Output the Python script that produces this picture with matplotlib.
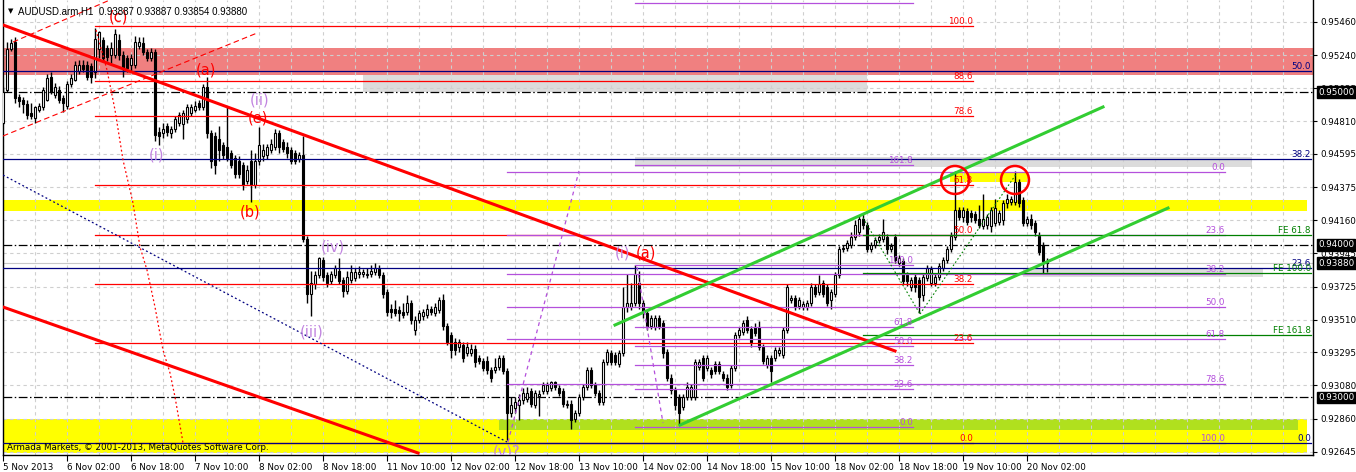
import matplotlib
matplotlib.use('Agg')
import matplotlib.pyplot as plt
from matplotlib.patches import Rectangle, Ellipse
from matplotlib.transforms import blended_transform_factory

plt.rcParams['font.family'] = ['DejaVu Sans']

# AUDUSD H1 bars, prices in pips (1 pip = 0.0001)
opens = [
    9480, 9501, 9528, 9533, 9497, 9495, 9492, 9486, 9483, 9488,
    9490, 9495, 9510, 9498, 9501, 9496, 9491, 9505, 9508, 9514,
    9518, 9518, 9517, 9513, 9528, 9534, 9529, 9524, 9524, 9534,
    9524, 9522, 9518, 9518, 9530, 9532, 9526, 9522, 9526, 9474,
    9473, 9478, 9473, 9476, 9480, 9479, 9482, 9486, 9488, 9493,
    9490, 9503, 9473, 9471, 9469, 9465, 9464, 9460, 9457, 9455,
    9452, 9442, 9455, 9439, 9455, 9458, 9459, 9462, 9464, 9473,
    9467, 9464, 9462, 9460, 9456, 9459, 9404, 9368, 9374, 9380,
    9390, 9380, 9376, 9380, 9383, 9377, 9370, 9377, 9378, 9381,
    9381, 9380, 9381, 9382, 9384, 9380, 9369, 9358, 9358, 9357,
    9356, 9356, 9362, 9344, 9351, 9353, 9354, 9358, 9355, 9357,
    9364, 9347, 9341, 9336, 9333, 9334, 9329, 9329, 9332, 9326,
    9324, 9324, 9318, 9318, 9320, 9326, 9317, 9290, 9293, 9295,
    9298, 9299, 9304, 9295, 9301, 9304, 9304, 9306, 9310, 9306,
    9304, 9295, 9296, 9286, 9290, 9300, 9307, 9318, 9308, 9303,
    9297, 9323, 9329, 9328, 9322, 9329, 9359, 9359, 9362, 9375,
    9362, 9355, 9347, 9346, 9352, 9349, 9330, 9313, 9305, 9300,
    9294, 9300, 9300, 9300, 9320, 9326, 9319, 9318, 9322, 9322,
    9315, 9313, 9308, 9319, 9341, 9343, 9351, 9345, 9346, 9346,
    9333, 9321, 9326, 9326, 9329, 9328, 9344, 9364, 9365, 9360,
    9359, 9359, 9362, 9372, 9369, 9375, 9372, 9364, 9368, 9380,
    9397, 9398, 9400, 9405, 9408, 9417, 9413, 9397, 9400, 9403,
    9404, 9405, 9397, 9405, 9388, 9389, 9380, 9372, 9379, 9377,
    9367, 9378, 9375, 9375, 9379, 9385, 9390, 9397, 9405, 9423,
    9418, 9422, 9421, 9420, 9417, 9412, 9413, 9412, 9414, 9415,
    9416, 9427, 9428, 9428, 9441, 9429, 9414, 9417, 9414, 9406,
    9400, 9389,
]
highs = [
    9503, 9533, 9535, 9536, 9499, 9497, 9495, 9493, 9491, 9493,
    9503, 9512, 9513, 9506, 9504, 9498, 9507, 9512, 9520, 9521,
    9521, 9520, 9519, 9542, 9540, 9536, 9531, 9533, 9541, 9538,
    9527, 9524, 9525, 9537, 9536, 9536, 9528, 9529, 9528, 9477,
    9480, 9480, 9478, 9484, 9487, 9488, 9492, 9492, 9494, 9495,
    9505, 9510, 9475, 9474, 9478, 9467, 9490, 9462, 9459, 9458,
    9454, 9452, 9462, 9460, 9477, 9466, 9466, 9469, 9476, 9475,
    9469, 9467, 9464, 9462, 9461, 9471, 9406, 9383, 9383, 9392,
    9392, 9382, 9383, 9387, 9391, 9379, 9383, 9387, 9385, 9386,
    9384, 9385, 9387, 9388, 9387, 9382, 9371, 9361, 9364, 9360,
    9362, 9367, 9364, 9353, 9357, 9358, 9361, 9360, 9362, 9366,
    9368, 9349, 9343, 9339, 9338, 9336, 9336, 9335, 9334, 9328,
    9326, 9327, 9320, 9326, 9328, 9328, 9319, 9300, 9300, 9302,
    9306, 9307, 9306, 9305, 9305, 9310, 9310, 9311, 9311, 9308,
    9306, 9298, 9298, 9292, 9302, 9309, 9320, 9320, 9310, 9305,
    9325, 9332, 9331, 9330, 9331, 9372, 9381, 9375, 9387, 9383,
    9364, 9357, 9354, 9354, 9354, 9351, 9332, 9315, 9307, 9302,
    9302, 9310, 9309, 9325, 9325, 9328, 9328, 9320, 9324, 9324,
    9317, 9315, 9321, 9343, 9346, 9351, 9353, 9347, 9349, 9350,
    9335, 9328, 9328, 9333, 9333, 9346, 9374, 9367, 9367, 9366,
    9363, 9364, 9375, 9374, 9380, 9377, 9374, 9371, 9382, 9399,
    9400, 9403, 9408, 9416, 9419, 9420, 9415, 9402, 9405, 9407,
    9417, 9407, 9401, 9407, 9393, 9391, 9382, 9379, 9381, 9379,
    9381, 9387, 9386, 9381, 9388, 9392, 9399, 9408, 9448, 9425,
    9425, 9424, 9423, 9422, 9426, 9433, 9420, 9425, 9430, 9423,
    9429, 9433, 9432, 9448, 9443, 9431, 9419, 9420, 9416, 9408,
    9402, 9391,
]
lows = [
    9479, 9500, 9527, 9493, 9490, 9486, 9482, 9482, 9480, 9487,
    9488, 9494, 9499, 9496, 9493, 9487, 9489, 9503, 9507, 9512,
    9513, 9508, 9506, 9509, 9522, 9520, 9520, 9519, 9522, 9521,
    9510, 9513, 9514, 9516, 9528, 9524, 9520, 9520, 9468, 9465,
    9470, 9471, 9470, 9474, 9478, 9469, 9480, 9484, 9487, 9488,
    9488, 9470, 9450, 9446, 9455, 9456, 9455, 9450, 9444, 9444,
    9436, 9440, 9428, 9437, 9452, 9455, 9456, 9460, 9462, 9460,
    9461, 9457, 9453, 9453, 9454, 9402, 9362, 9353, 9371, 9378,
    9376, 9372, 9374, 9378, 9374, 9366, 9368, 9375, 9376, 9378,
    9379, 9378, 9379, 9380, 9378, 9365, 9353, 9352, 9353, 9350,
    9352, 9354, 9348, 9341, 9349, 9351, 9352, 9354, 9353, 9355,
    9344, 9334, 9326, 9328, 9330, 9323, 9327, 9327, 9320, 9322,
    9317, 9315, 9310, 9316, 9318, 9315, 9272, 9287, 9290, 9285,
    9296, 9297, 9294, 9293, 9288, 9302, 9302, 9304, 9305, 9301,
    9294, 9293, 9279, 9284, 9288, 9298, 9305, 9306, 9301, 9295,
    9295, 9321, 9321, 9321, 9320, 9327, 9356, 9357, 9360, 9358,
    9352, 9344, 9345, 9344, 9345, 9326, 9311, 9302, 9292, 9282,
    9292, 9298, 9298, 9298, 9318, 9311, 9317, 9313, 9315, 9315,
    9311, 9305, 9306, 9317, 9339, 9341, 9342, 9333, 9340, 9331,
    9322, 9319, 9310, 9324, 9327, 9326, 9342, 9362, 9357, 9358,
    9357, 9357, 9360, 9366, 9367, 9366, 9360, 9358, 9366, 9378,
    9395, 9396, 9398, 9403, 9406, 9410, 9395, 9395, 9398, 9401,
    9402, 9394, 9395, 9388, 9386, 9374, 9373, 9370, 9369, 9355,
    9363, 9376, 9373, 9373, 9377, 9383, 9388, 9395, 9403, 9416,
    9415, 9413, 9415, 9414, 9411, 9410, 9410, 9408, 9412, 9413,
    9413, 9424, 9426, 9426, 9425, 9412, 9412, 9410, 9406, 9393,
    9381, 9382,
]
closes = [
    9500, 9528, 9532, 9496, 9494, 9492, 9485, 9484, 9490, 9491,
    9501, 9509, 9500, 9503, 9495, 9493, 9505, 9509, 9518, 9518,
    9515, 9510, 9510, 9535, 9539, 9522, 9523, 9529, 9538, 9524,
    9516, 9516, 9522, 9533, 9533, 9526, 9522, 9526, 9472, 9471,
    9476, 9474, 9476, 9482, 9485, 9486, 9490, 9490, 9491, 9490,
    9503, 9473, 9455, 9452, 9462, 9459, 9457, 9452, 9446, 9446,
    9439, 9449, 9439, 9455, 9465, 9462, 9464, 9466, 9473, 9464,
    9463, 9460, 9455, 9455, 9459, 9404, 9368, 9375, 9380, 9391,
    9379, 9375, 9381, 9385, 9376, 9370, 9379, 9382, 9382, 9382,
    9382, 9381, 9383, 9385, 9380, 9368, 9356, 9356, 9355, 9355,
    9354, 9362, 9351, 9351, 9355, 9356, 9358, 9356, 9359, 9364,
    9347, 9336, 9331, 9331, 9336, 9326, 9333, 9332, 9323, 9324,
    9319, 9318, 9313, 9320, 9326, 9317, 9290, 9295, 9297, 9298,
    9303, 9303, 9296, 9303, 9302, 9308, 9308, 9310, 9307, 9303,
    9296, 9296, 9285, 9290, 9300, 9307, 9318, 9308, 9303, 9297,
    9323, 9330, 9323, 9323, 9329, 9359, 9362, 9362, 9381, 9362,
    9355, 9346, 9352, 9352, 9347, 9329, 9313, 9305, 9295, 9290,
    9300, 9307, 9307, 9323, 9323, 9313, 9326, 9315, 9317, 9317,
    9313, 9307, 9319, 9341, 9344, 9349, 9344, 9336, 9342, 9333,
    9324, 9326, 9317, 9331, 9331, 9344, 9372, 9365, 9359, 9364,
    9361, 9362, 9372, 9368, 9374, 9368, 9362, 9369, 9380, 9397,
    9398, 9401, 9405, 9413, 9417, 9413, 9397, 9400, 9403, 9405,
    9408, 9397, 9399, 9390, 9391, 9376, 9376, 9377, 9372, 9366,
    9379, 9385, 9384, 9379, 9386, 9390, 9397, 9406, 9423, 9418,
    9423, 9415, 9418, 9416, 9413, 9417, 9418, 9423, 9424, 9421,
    9427, 9430, 9430, 9441, 9427, 9414, 9417, 9413, 9408, 9395,
    9389, 9388,
]

time_labels = ['5 Nov 2013', '6 Nov 02:00', '6 Nov 18:00', '7 Nov 10:00', '8 Nov 02:00',
               '8 Nov 18:00', '11 Nov 10:00', '12 Nov 02:00', '12 Nov 18:00', '13 Nov 10:00',
               '14 Nov 02:00', '14 Nov 18:00', '15 Nov 10:00', '18 Nov 02:00', '18 Nov 18:00',
               '19 Nov 10:00', '20 Nov 02:00']
price_ticks = [0.95460, 0.95240, 0.95025, 0.94810, 0.94595, 0.94375, 0.94160,
               0.93945, 0.93725, 0.93510, 0.93295, 0.93080, 0.92860, 0.92645]
round_levels = [0.95000, 0.94000, 0.93000]
last_price = 0.93880
header = 'AUDUSD.arm,H1  0.93887 0.93887 0.93854 0.93880'

# fibonacci objects: (level text, price), drawn between two bar positions
red_fib = [('100.0', 0.95432), ('88.6', 0.95072), ('78.6', 0.94843), ('61.8', 0.94391),
           ('50.0', 0.94063), ('38.2', 0.93743), ('23.6', 0.93356), ('0.0', 0.92701)]
violet_fib = [('0.0', 0.94478), ('23.6', 0.94063), ('38.2', 0.93808), ('50.0', 0.93592),
              ('61.8', 0.93382), ('78.6', 0.93088), ('100.0', 0.92701)]
violet_fib2 = [('0.0', 0.92806), ('23.6', 0.93056), ('38.2', 0.93211), ('50.0', 0.93337),
               ('61.8', 0.93462), ('100.0', 0.93867), ('161.8', 0.94523), ('', 0.95584)]
navy_fib = [('50.0', 0.95138), ('38.2', 0.94561), ('23.6', 0.93847), ('0.0', 0.92701)]
fe_levels = [('FE 61.8', 0.94063), ('FE 100.0', 0.93815), ('FE 161.8', 0.93409)]

# rectangles: bar from, bar to, price low, price high, colour
zones = [
    (0, 327.5, 0.95111, 0.95288, '#f08080'),
    (90, 216, 0.95000, 0.95111, '#dcdcdc'),
    (158, 312.25, 0.94509, 0.94574, '#dcdcdc'),
    (0, 326, 0.94221, 0.94293, '#ffff00'),
    (236.75, 256.25, 0.94411, 0.94476, '#ffff00'),
    (255, 315, 0.93788, 0.93847, '#dcdcdc'),
    (0, 326, 0.92636, 0.92858, '#ffff00'),
    (124, 323.75, 0.92786, 0.92858, '#b0e01e'),
]

VIOLET = '#b450dc'
VIOLET_TXT = '#c184e0'
DASHED = (0, (5, 3))
DOTTED = (0, (1.5, 2))

# trend lines: (bar, price) -> (bar, price), colour, width, style
trend_lines = [
    (0, 0.95439, 223, 0.93304, 'red', 2.2, '-'),
    (0, 0.93592, 103.75, 0.92636, 'red', 2.2, '-'),
    (153, 0.93474, 275, 0.94902, '#32cd32', 2.2, '-'),
    (169.25, 0.92819, 291.25, 0.94240, '#32cd32', 2.2, '-'),
    (0, 0.94712, 63.5, 0.95386, 'red', 0.8, DASHED),
    (2.5, 0.95327, 26.75, 0.95603, 'red', 0.8, DASHED),
    (0, 0.94456, 126, 0.92708, '#000080', 0.9, DOTTED),
    (126.25, 0.92708, 144, 0.94483, VIOLET, 0.9, (0, (3, 3))),
    (158.5, 0.93854, 165, 0.92832, VIOLET, 0.9, (0, (3, 3))),
    (215, 0.94175, 229.25, 0.93546, '#008000', 0.8, DOTTED),
    (229.25, 0.93546, 253.5, 0.94470, '#008000', 0.8, DOTTED),
]
time_arc_bars = [23.25, 26, 28, 30, 32.5, 34.25, 36, 38, 40, 41.75, 43, 44.75, 45]
time_arc_prices = [0.95406, 0.95144, 0.94882, 0.94555, 0.94273, 0.93985, 0.93834,
                   0.93592, 0.93310, 0.93160, 0.93003, 0.92741, 0.92701]

circles = [(238, 0.94424), (253, 0.94424)]

waves = [
    ('(c)', 28.75, 0.95490, 'red'),
    ('(a)', 50.75, 0.95144, 'red'),
    ('(ii)', 64.25, 0.94948, VIOLET_TXT),
    ('(e)', 63.75, 0.94830, 'red'),
    ('(i)', 38.5, 0.94587, VIOLET_TXT),
    ('(b)', 61.75, 0.94214, 'red'),
    ('(iv)', 82.5, 0.93985, VIOLET_TXT),
    ('(iii)', 77.25, 0.93428, VIOLET_TXT),
    ('(i)', 154.75, 0.93946, VIOLET_TXT),
    ('(a)', 160.75, 0.93946, 'red'),
    ('(v)?', 126, 0.92642, VIOLET_TXT),
]

FS = 6.3
W, H = 1356, 472
fig = plt.figure(figsize=(W / 100, H / 100), dpi=100)
ax = fig.add_axes([3 / W, 1 - 455 / H, 1310 / W, 455 / H])
x_max = 327.5
ax.set_xlim(0, x_max)
ax.set_ylim(0.926228, 0.956025)

# background rectangles
for x0, x1, p0, p1, col in zones:
    ax.add_patch(Rectangle((x0, p0), x1 - x0, p1 - p0, facecolor=col, edgecolor='none', zorder=1))

# grid
ax.hlines(price_ticks, 0, x_max, colors='#cfcfcf', linestyles=(0, (3, 3)), lw=0.8, zorder=1.5)
ax.vlines(range(0, 328, 8), 0.926228, 0.956025, colors='#cfcfcf', linestyles=(0, (3, 3)), lw=0.8, zorder=1.5)

# round levels and bid line
ax.hlines(round_levels, 0, x_max, colors='black', linestyles=(0, (7, 2, 1.2, 2)), lw=0.9, zorder=3)
ax.axhline(last_price, color='#c8c8c8', lw=0.8, zorder=2)

# candles
n = len(closes)
xs = list(range(n))
ax.vlines(xs, [v / 1e4 for v in lows], [v / 1e4 for v in highs], colors='black', lw=1, zorder=4)
up = [i for i in xs if closes[i] >= opens[i]]
dn = [i for i in xs if closes[i] < opens[i]]
ax.bar(up, [(closes[i] - opens[i]) / 1e4 for i in up], bottom=[opens[i] / 1e4 for i in up],
       width=0.55, color='white', edgecolor='black', lw=0.8, zorder=5)
ax.bar(dn, [(opens[i] - closes[i]) / 1e4 for i in dn], bottom=[closes[i] / 1e4 for i in dn],
       width=0.55, color='black', edgecolor='black', lw=0.8, zorder=5)


def draw_levels(levels, x0, x1, color, lw=0.9):
    for name, p in levels:
        ax.plot([x0, x1], [p, p], color=color, lw=lw, zorder=6)
        if name:
            ax.text(x1, p, name, color=color, fontsize=FS, ha='right', va='bottom', zorder=8, clip_on=True)


draw_levels(red_fib, 23, 242.5, 'red')
draw_levels(violet_fib, 126, 305.5, VIOLET)
draw_levels(violet_fib2, 158, 227.5, VIOLET)
draw_levels(navy_fib, 0, 327, '#000080')
draw_levels(fe_levels, 215, 327, '#008000')

for x0, p0, x1, p1, col, lw, ls in trend_lines:
    ax.plot([x0, x1], [p0, p1], color=col, lw=lw, linestyle=ls, zorder=7)
ax.plot(time_arc_bars, time_arc_prices, color='red', lw=0.9, linestyle=DOTTED, zorder=7)

for cx, cy in circles:
    ax.add_patch(Ellipse((cx, cy), 7, 28 / 15270, fill=False, edgecolor='red', lw=1.8, zorder=8))

for txt, x, p, col in waves:
    ax.text(x, p, txt, color=col, fontsize=10.5, ha='center', va='center', zorder=9, clip_on=True)

ax.text(1, 0.92675, 'Armada Markets, \u00a9 2001-2013, MetaQuotes Software Corp.',
        fontsize=FS, color='black', va='center', ha='left', zorder=9)

# axes
ax.yaxis.tick_right()
ax.set_yticks(price_ticks)
ax.set_yticklabels([f'{p:.5f}' for p in price_ticks])
ax.tick_params(axis='y', length=3, width=0.8, pad=2, labelsize=FS)
ax.set_xticks(range(0, 16 * len(time_labels), 16))
ax.set_xticklabels(time_labels, ha='left')
ax.tick_params(axis='x', length=4, width=0.8, pad=1.5, labelsize=FS)
ax.spines['top'].set_visible(False)
for s in ('left', 'right', 'bottom'):
    ax.spines[s].set_linewidth(1)

trans = blended_transform_factory(ax.transAxes, ax.transData)
for p in round_levels + [last_price]:
    ax.text(1.0038, p, f'{p:.5f}', transform=trans, color='white', fontsize=FS, va='center', ha='left',
            bbox=dict(boxstyle='square,pad=0.15', fc='black', ec='black'), clip_on=False, zorder=10)

fig.text(8 / W, 1 - 11 / H, '\u25bc', fontsize=5, va='center', ha='left')
fig.text(18 / W, 1 - 11 / H, header, fontsize=7, family=['Liberation Sans', 'DejaVu Sans'],
         va='center', ha='left')

fig.savefig('out.png', dpi=100)
